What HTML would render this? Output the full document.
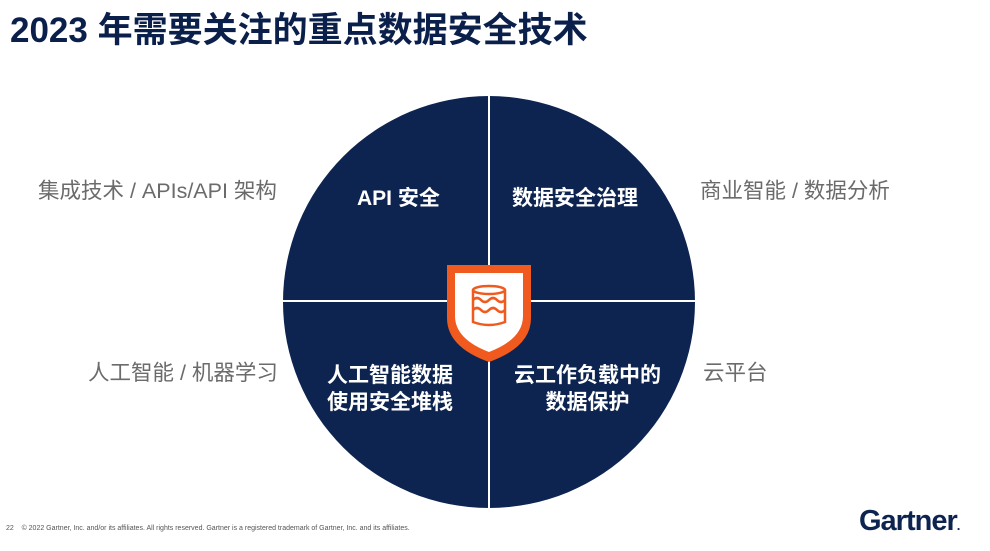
<!DOCTYPE html>
<html><head><meta charset="utf-8"><style>
body{margin:0;width:990px;height:551px;background:#fff;position:relative;overflow:hidden;font-family:"Liberation Sans","Noto Sans CJK SC",sans-serif}
.t{position:absolute;white-space:nowrap}
.g{color:#6b6b6b;font-size:21.5px}
.w{color:#fff;font-size:21px;font-weight:bold;text-align:center;line-height:27px}
</style></head><body>
<div class="t" style="left:10px;top:2px;font-size:35px;font-weight:bold;color:#0b1f4b">2023 年需要关注的重点数据安全技术</div>
<svg width="990" height="551" style="position:absolute;left:0;top:0">
<circle cx="489" cy="302" r="206" fill="#0d2451"/>
<line x1="489" y1="96" x2="489" y2="508" stroke="#fff" stroke-width="2"/>
<line x1="283" y1="301" x2="695" y2="301" stroke="#fff" stroke-width="2"/>
<path d="M447 265 H531 V318 Q531 347 489 362 Q447 347 447 318 Z" fill="#f05a1e"/>
<path d="M455 273 H523 V316 Q523 339 489 352 Q455 339 455 316 Z" fill="#fff"/>
<g fill="none" stroke="#f05a1e" stroke-width="2.5">
<ellipse cx="489" cy="290" rx="16" ry="4"/>
<path d="M473 290 V322 Q489 328 505 322 V290"/>
<path d="M473 300 q4 -4 8 0 t8 0 t8 0 t8 0"/>
<path d="M473 310 q4 -4 8 0 t8 0 t8 0 t8 0"/>
</g>
</svg>
<div class="t g" style="left:38px;top:174px">集成技术 / APIs/API 架构</div>
<div class="t g" style="left:700px;top:174px">商业智能 / 数据分析</div>
<div class="t g" style="left:88px;top:356px">人工智能 / 机器学习</div>
<div class="t g" style="left:703px;top:356px">云平台</div>
<div class="t w" style="left:357px;top:185px">API 安全</div>
<div class="t w" style="left:512px;top:185px">数据安全治理</div>
<div class="t w" style="left:327px;top:362px">人工智能数据<br>使用安全堆栈</div>
<div class="t w" style="left:514px;top:362px">云工作负载中的<br>数据保护</div>
<div class="t" style="left:6px;top:525px;font-size:7px;color:#555">22 &nbsp;&nbsp; © 2022 Gartner, Inc. and/or its affiliates. All rights reserved. Gartner is a registered trademark of Gartner, Inc. and its affiliates.</div>
<div class="t" style="left:859px;top:505px;font-size:29px;font-weight:bold;color:#0d2451;letter-spacing:-1px">Gartner<span style="font-size:13px">.</span></div>
</body></html>
